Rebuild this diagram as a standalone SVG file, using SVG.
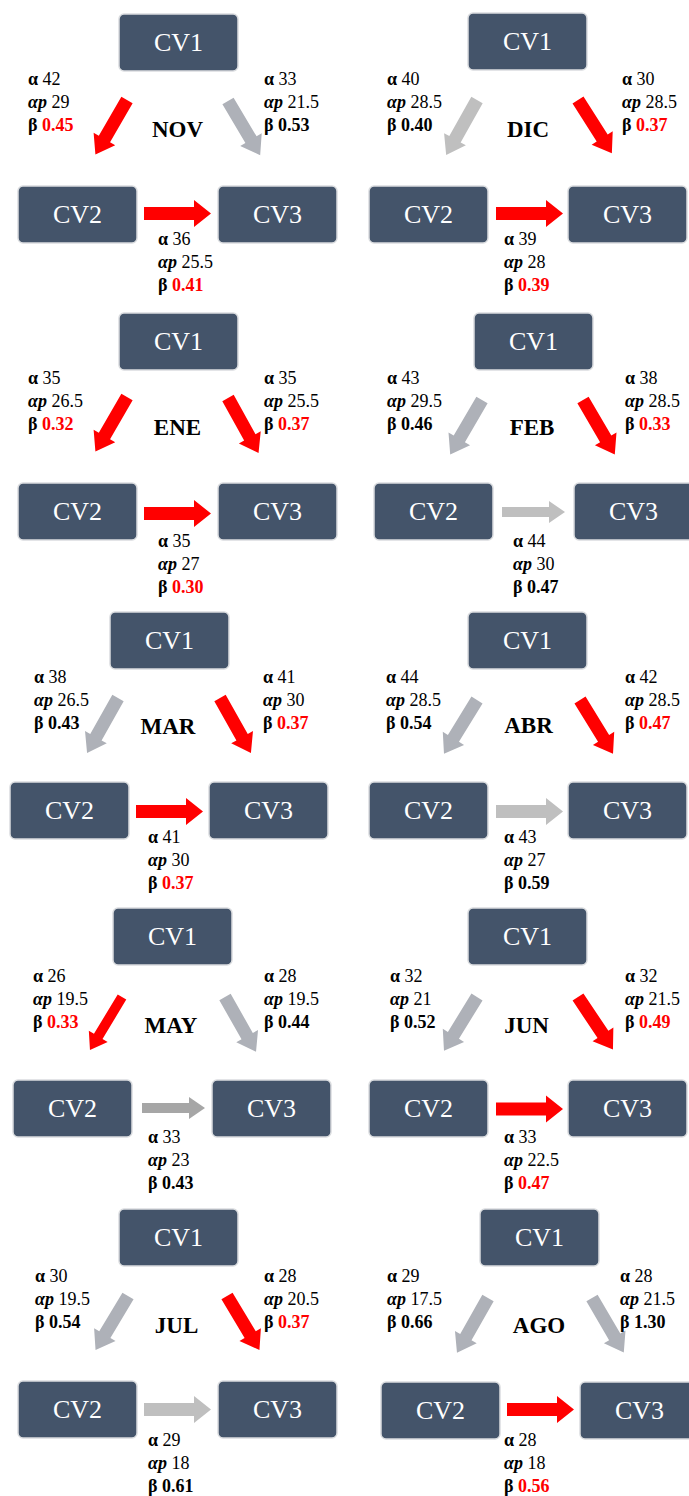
<svg xmlns="http://www.w3.org/2000/svg" xmlns:xlink="http://www.w3.org/1999/xlink" width="689" height="1496" viewBox="0 0 689 1496">
<style>
.box{fill:#44546A;stroke:#DADCDF;stroke-width:1.5}
.nt{font-family:"Liberation Serif","Times New Roman",serif;font-size:26px;fill:#FFFFFF;text-anchor:middle}
.lb{font-family:"Liberation Serif","Times New Roman",serif;font-size:18px;fill:#000000}
.b{font-weight:bold}
.bi{font-weight:bold;font-style:italic}
.r{fill:#FF0000}
.mo{font-family:"Liberation Serif","Times New Roman",serif;font-size:23px;font-weight:bold;text-anchor:middle;fill:#000000}
.red{fill:#FF0000}
.g1{fill:#AEB1B8}
.g2{fill:#BFBFBF}
.g3{fill:#A6A6A6}
</style>
<defs>
<rect id="box" class="box" width="119" height="57" rx="5"/>
<path id="diag" d="M0,-6.5 H45 V-12.5 L63,0 L45,12.5 V6.5 H0 Z"/>
<path id="diagthin" d="M0,-5 H46 V-11 L62,0 L46,11 V5 H0 Z"/>
<path id="hor" d="M0,-6.5 H50 V-13.5 L67,0 L50,13.5 V6.5 H0 Z"/>
<path id="horthin" d="M0,-5 H47 V-11 L63,0 L47,11 V5 H0 Z"/>
</defs>
<rect width="689" height="1496" fill="#FFFFFF"/>

<g id="connectors">
<use href="#diag" class="red" transform="translate(127,100) rotate(120.1)"/>
<use href="#diag" class="g1" transform="translate(228,101) rotate(59.3)"/>
<use href="#hor" class="red" transform="translate(144,213.5)"/>
<use href="#diag" class="g2" transform="translate(477,100) rotate(119.3)"/>
<use href="#diag" class="red" transform="translate(578,100) rotate(57.5)"/>
<use href="#hor" class="red" transform="translate(496,213.5)"/>
<use href="#diag" class="red" transform="translate(127,397) rotate(120.1)"/>
<use href="#diag" class="red" transform="translate(228,398) rotate(61)"/>
<use href="#hor" class="red" transform="translate(144,513.5)"/>
<use href="#diag" class="g1" transform="translate(482,400) rotate(120.3)"/>
<use href="#diag" class="red" transform="translate(583,400) rotate(59.7)"/>
<use href="#horthin" class="g2" transform="translate(502,512)"/>
<use href="#diag" class="g1" transform="translate(118,698) rotate(119.4)"/>
<use href="#diag" class="red" transform="translate(220,698) rotate(60.6)"/>
<use href="#hor" class="red" transform="translate(136,811.5)"/>
<use href="#diag" class="g1" transform="translate(477,700) rotate(121.6)"/>
<use href="#diag" class="red" transform="translate(580,700) rotate(58.4)"/>
<use href="#hor" class="g2" transform="translate(496,811.5)"/>
<use href="#diagthin" class="red" transform="translate(122,997) rotate(121.1)"/>
<use href="#diag" class="g1" transform="translate(225,997) rotate(60.5)"/>
<use href="#horthin" class="g3" transform="translate(142,1108)"/>
<use href="#diag" class="g1" transform="translate(477,997) rotate(121.6)"/>
<use href="#diag" class="red" transform="translate(578,997) rotate(56.3)"/>
<use href="#hor" class="red" transform="translate(496,1109)"/>
<use href="#diag" class="g1" transform="translate(128,1296) rotate(121)"/>
<use href="#diag" class="red" transform="translate(227,1296) rotate(59)"/>
<use href="#hor" class="g2" transform="translate(144,1409.5)"/>
<use href="#diag" class="g1" transform="translate(488,1298) rotate(119.5)"/>
<use href="#diag" class="g1" transform="translate(592,1298) rotate(59.7)"/>
<use href="#hor" class="red" transform="translate(507,1409.5)"/>
</g>

<g id="nov">
<g id="nov-cv1"><use href="#box" x="119" y="14"/><text class="nt" x="178.5" y="51">CV1</text></g>
<g id="nov-cv2"><use href="#box" x="18" y="186"/><text class="nt" x="77.5" y="223">CV2</text></g>
<g id="nov-cv3"><use href="#box" x="218" y="186"/><text class="nt" x="277.5" y="223">CV3</text></g>
<text class="mo" x="177.5" y="137">NOV</text>
<text class="lb" x="28" y="85"><tspan class="b">α</tspan> 42</text>
<text class="lb" x="28" y="108"><tspan class="bi">αp</tspan> 29</text>
<text class="lb" x="28" y="131"><tspan class="b">β</tspan> <tspan class="b r">0.45</tspan></text>
<text class="lb" x="264" y="85"><tspan class="b">α</tspan> 33</text>
<text class="lb" x="264" y="108"><tspan class="bi">αp</tspan> 21.5</text>
<text class="lb" x="264" y="131"><tspan class="b">β</tspan> <tspan class="b">0.53</tspan></text>
<text class="lb" x="158" y="245"><tspan class="b">α</tspan> 36</text>
<text class="lb" x="158" y="268"><tspan class="bi">αp</tspan> 25.5</text>
<text class="lb" x="158" y="291"><tspan class="b">β</tspan> <tspan class="b r">0.41</tspan></text>
</g>

<g id="dic">
<g id="dic-cv1"><use href="#box" x="468" y="13"/><text class="nt" x="527.5" y="50">CV1</text></g>
<g id="dic-cv2"><use href="#box" x="369" y="186"/><text class="nt" x="428.5" y="223">CV2</text></g>
<g id="dic-cv3"><use href="#box" x="568" y="186"/><text class="nt" x="627.5" y="223">CV3</text></g>
<text class="mo" x="528" y="137">DIC</text>
<text class="lb" x="387" y="85"><tspan class="b">α</tspan> 40</text>
<text class="lb" x="387" y="108"><tspan class="bi">αp</tspan> 28.5</text>
<text class="lb" x="387" y="131"><tspan class="b">β</tspan> <tspan class="b">0.40</tspan></text>
<text class="lb" x="622" y="85"><tspan class="b">α</tspan> 30</text>
<text class="lb" x="622" y="108"><tspan class="bi">αp</tspan> 28.5</text>
<text class="lb" x="622" y="131"><tspan class="b">β</tspan> <tspan class="b r">0.37</tspan></text>
<text class="lb" x="504" y="245"><tspan class="b">α</tspan> 39</text>
<text class="lb" x="504" y="268"><tspan class="bi">αp</tspan> 28</text>
<text class="lb" x="504" y="291"><tspan class="b">β</tspan> <tspan class="b r">0.39</tspan></text>
</g>

<g id="ene">
<g id="ene-cv1"><use href="#box" x="119" y="313"/><text class="nt" x="178.5" y="350">CV1</text></g>
<g id="ene-cv2"><use href="#box" x="18" y="483"/><text class="nt" x="77.5" y="520">CV2</text></g>
<g id="ene-cv3"><use href="#box" x="218" y="483"/><text class="nt" x="277.5" y="520">CV3</text></g>
<text class="mo" x="177.5" y="435">ENE</text>
<text class="lb" x="28" y="384"><tspan class="b">α</tspan> 35</text>
<text class="lb" x="28" y="407"><tspan class="bi">αp</tspan> 26.5</text>
<text class="lb" x="28" y="430"><tspan class="b">β</tspan> <tspan class="b r">0.32</tspan></text>
<text class="lb" x="264" y="384"><tspan class="b">α</tspan> 35</text>
<text class="lb" x="264" y="407"><tspan class="bi">αp</tspan> 25.5</text>
<text class="lb" x="264" y="430"><tspan class="b">β</tspan> <tspan class="b r">0.37</tspan></text>
<text class="lb" x="158" y="547"><tspan class="b">α</tspan> 35</text>
<text class="lb" x="158" y="570"><tspan class="bi">αp</tspan> 27</text>
<text class="lb" x="158" y="593"><tspan class="b">β</tspan> <tspan class="b r">0.30</tspan></text>
</g>

<g id="feb">
<g id="feb-cv1"><use href="#box" x="474" y="313"/><text class="nt" x="533.5" y="350">CV1</text></g>
<g id="feb-cv2"><use href="#box" x="374" y="483"/><text class="nt" x="433.5" y="520">CV2</text></g>
<g id="feb-cv3"><use href="#box" x="574" y="483"/><text class="nt" x="633.5" y="520">CV3</text></g>
<text class="mo" x="532" y="435">FEB</text>
<text class="lb" x="387" y="384"><tspan class="b">α</tspan> 43</text>
<text class="lb" x="387" y="407"><tspan class="bi">αp</tspan> 29.5</text>
<text class="lb" x="387" y="430"><tspan class="b">β</tspan> <tspan class="b">0.46</tspan></text>
<text class="lb" x="625" y="384"><tspan class="b">α</tspan> 38</text>
<text class="lb" x="625" y="407"><tspan class="bi">αp</tspan> 28.5</text>
<text class="lb" x="625" y="430"><tspan class="b">β</tspan> <tspan class="b r">0.33</tspan></text>
<text class="lb" x="513" y="547"><tspan class="b">α</tspan> 44</text>
<text class="lb" x="513" y="570"><tspan class="bi">αp</tspan> 30</text>
<text class="lb" x="513" y="593"><tspan class="b">β</tspan> <tspan class="b">0.47</tspan></text>
</g>

<g id="mar">
<g id="mar-cv1"><use href="#box" x="110" y="612"/><text class="nt" x="169.5" y="649">CV1</text></g>
<g id="mar-cv2"><use href="#box" x="10" y="782"/><text class="nt" x="69.5" y="819">CV2</text></g>
<g id="mar-cv3"><use href="#box" x="209" y="782"/><text class="nt" x="268.5" y="819">CV3</text></g>
<text class="mo" x="168" y="734">MAR</text>
<text class="lb" x="34" y="683"><tspan class="b">α</tspan> 38</text>
<text class="lb" x="34" y="706"><tspan class="bi">αp</tspan> 26.5</text>
<text class="lb" x="34" y="729"><tspan class="b">β</tspan> <tspan class="b">0.43</tspan></text>
<text class="lb" x="263" y="683"><tspan class="b">α</tspan> 41</text>
<text class="lb" x="263" y="706"><tspan class="bi">αp</tspan> 30</text>
<text class="lb" x="263" y="729"><tspan class="b">β</tspan> <tspan class="b r">0.37</tspan></text>
<text class="lb" x="148" y="843"><tspan class="b">α</tspan> 41</text>
<text class="lb" x="148" y="866"><tspan class="bi">αp</tspan> 30</text>
<text class="lb" x="148" y="889"><tspan class="b">β</tspan> <tspan class="b r">0.37</tspan></text>
</g>

<g id="abr">
<g id="abr-cv1"><use href="#box" x="468" y="612"/><text class="nt" x="527.5" y="649">CV1</text></g>
<g id="abr-cv2"><use href="#box" x="369" y="782"/><text class="nt" x="428.5" y="819">CV2</text></g>
<g id="abr-cv3"><use href="#box" x="568" y="782"/><text class="nt" x="627.5" y="819">CV3</text></g>
<text class="mo" x="528.5" y="733">ABR</text>
<text class="lb" x="386" y="683"><tspan class="b">α</tspan> 44</text>
<text class="lb" x="386" y="706"><tspan class="bi">αp</tspan> 28.5</text>
<text class="lb" x="386" y="729"><tspan class="b">β</tspan> <tspan class="b">0.54</tspan></text>
<text class="lb" x="625" y="683"><tspan class="b">α</tspan> 42</text>
<text class="lb" x="625" y="706"><tspan class="bi">αp</tspan> 28.5</text>
<text class="lb" x="625" y="729"><tspan class="b">β</tspan> <tspan class="b r">0.47</tspan></text>
<text class="lb" x="504" y="843"><tspan class="b">α</tspan> 43</text>
<text class="lb" x="504" y="866"><tspan class="bi">αp</tspan> 27</text>
<text class="lb" x="504" y="889"><tspan class="b">β</tspan> <tspan class="b">0.59</tspan></text>
</g>

<g id="may">
<g id="may-cv1"><use href="#box" x="113" y="908"/><text class="nt" x="172.5" y="945">CV1</text></g>
<g id="may-cv2"><use href="#box" x="13" y="1080"/><text class="nt" x="72.5" y="1117">CV2</text></g>
<g id="may-cv3"><use href="#box" x="212" y="1080"/><text class="nt" x="271.5" y="1117">CV3</text></g>
<text class="mo" x="171" y="1033">MAY</text>
<text class="lb" x="33" y="982"><tspan class="b">α</tspan> 26</text>
<text class="lb" x="33" y="1005"><tspan class="bi">αp</tspan> 19.5</text>
<text class="lb" x="33" y="1028"><tspan class="b">β</tspan> <tspan class="b r">0.33</tspan></text>
<text class="lb" x="264" y="982"><tspan class="b">α</tspan> 28</text>
<text class="lb" x="264" y="1005"><tspan class="bi">αp</tspan> 19.5</text>
<text class="lb" x="264" y="1028"><tspan class="b">β</tspan> <tspan class="b">0.44</tspan></text>
<text class="lb" x="148" y="1143"><tspan class="b">α</tspan> 33</text>
<text class="lb" x="148" y="1166"><tspan class="bi">αp</tspan> 23</text>
<text class="lb" x="148" y="1189"><tspan class="b">β</tspan> <tspan class="b">0.43</tspan></text>
</g>

<g id="jun">
<g id="jun-cv1"><use href="#box" x="468" y="908"/><text class="nt" x="527.5" y="945">CV1</text></g>
<g id="jun-cv2"><use href="#box" x="369" y="1080"/><text class="nt" x="428.5" y="1117">CV2</text></g>
<g id="jun-cv3"><use href="#box" x="568" y="1080"/><text class="nt" x="627.5" y="1117">CV3</text></g>
<text class="mo" x="526.5" y="1033">JUN</text>
<text class="lb" x="390" y="982"><tspan class="b">α</tspan> 32</text>
<text class="lb" x="390" y="1005"><tspan class="bi">αp</tspan> 21</text>
<text class="lb" x="390" y="1028"><tspan class="b">β</tspan> <tspan class="b">0.52</tspan></text>
<text class="lb" x="625" y="982"><tspan class="b">α</tspan> 32</text>
<text class="lb" x="625" y="1005"><tspan class="bi">αp</tspan> 21.5</text>
<text class="lb" x="625" y="1028"><tspan class="b">β</tspan> <tspan class="b r">0.49</tspan></text>
<text class="lb" x="504" y="1143"><tspan class="b">α</tspan> 33</text>
<text class="lb" x="504" y="1166"><tspan class="bi">αp</tspan> 22.5</text>
<text class="lb" x="504" y="1189"><tspan class="b">β</tspan> <tspan class="b r">0.47</tspan></text>
</g>

<g id="jul">
<g id="jul-cv1"><use href="#box" x="119" y="1209"/><text class="nt" x="178.5" y="1246">CV1</text></g>
<g id="jul-cv2"><use href="#box" x="18" y="1381"/><text class="nt" x="77.5" y="1418">CV2</text></g>
<g id="jul-cv3"><use href="#box" x="218" y="1381"/><text class="nt" x="277.5" y="1418">CV3</text></g>
<text class="mo" x="176.5" y="1333">JUL</text>
<text class="lb" x="35" y="1282"><tspan class="b">α</tspan> 30</text>
<text class="lb" x="35" y="1305"><tspan class="bi">αp</tspan> 19.5</text>
<text class="lb" x="35" y="1328"><tspan class="b">β</tspan> <tspan class="b">0.54</tspan></text>
<text class="lb" x="264" y="1282"><tspan class="b">α</tspan> 28</text>
<text class="lb" x="264" y="1305"><tspan class="bi">αp</tspan> 20.5</text>
<text class="lb" x="264" y="1328"><tspan class="b">β</tspan> <tspan class="b r">0.37</tspan></text>
<text class="lb" x="148" y="1446"><tspan class="b">α</tspan> 29</text>
<text class="lb" x="148" y="1469"><tspan class="bi">αp</tspan> 18</text>
<text class="lb" x="148" y="1492"><tspan class="b">β</tspan> <tspan class="b">0.61</tspan></text>
</g>

<g id="ago">
<g id="ago-cv1"><use href="#box" x="480" y="1209"/><text class="nt" x="539.5" y="1246">CV1</text></g>
<g id="ago-cv2"><use href="#box" x="381" y="1382"/><text class="nt" x="440.5" y="1419">CV2</text></g>
<g id="ago-cv3"><use href="#box" x="580" y="1382"/><text class="nt" x="639.5" y="1419">CV3</text></g>
<text class="mo" x="539" y="1333">AGO</text>
<text class="lb" x="387" y="1282"><tspan class="b">α</tspan> 29</text>
<text class="lb" x="387" y="1305"><tspan class="bi">αp</tspan> 17.5</text>
<text class="lb" x="387" y="1328"><tspan class="b">β</tspan> <tspan class="b">0.66</tspan></text>
<text class="lb" x="620" y="1282"><tspan class="b">α</tspan> 28</text>
<text class="lb" x="620" y="1305"><tspan class="bi">αp</tspan> 21.5</text>
<text class="lb" x="620" y="1328"><tspan class="b">β</tspan> <tspan class="b">1.30</tspan></text>
<text class="lb" x="504" y="1446"><tspan class="b">α</tspan> 28</text>
<text class="lb" x="504" y="1469"><tspan class="bi">αp</tspan> 18</text>
<text class="lb" x="504" y="1492"><tspan class="b">β</tspan> <tspan class="b r">0.56</tspan></text>
</g>
</svg>
